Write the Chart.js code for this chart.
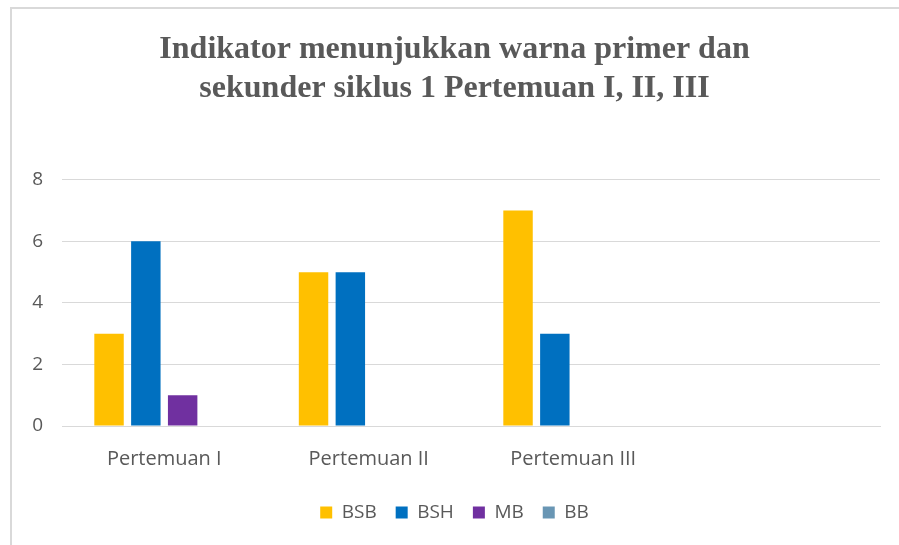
<!DOCTYPE html>
<html>
<head>
<meta charset="utf-8">
<script src="https://cdn.jsdelivr.net/npm/chart.js@4.4.1/dist/chart.umd.min.js"></script>
<style>
  html, body { margin: 0; padding: 0; background: #fff; }
  #wrap { position: relative; width: 899px; height: 545px; }
  #frame { position: absolute; left: 10px; top: 7px; right: 0; bottom: 0;
           border-left: 2px solid #d9d9d9; border-top: 2px solid #d9d9d9; }
  canvas { position: absolute; left: 0; top: 0; }
</style>
</head>
<body>
<div id="wrap">
  <div id="frame"></div>
  <canvas id="chart" width="899" height="545"></canvas>
</div>
<script>
const categories = ['Pertemuan I', 'Pertemuan II', 'Pertemuan III', ''];
const bsb = [3, 5, 7, null];
const bsh = [6, 5, 3, null];
const mb = [1, 0, 0, null];
const bb = [0, 0, 0, null];
const yTicks = [0, 2, 4, 6, 8];

const grey = '#595959';

new Chart(document.getElementById('chart'), {
  type: 'bar',
  data: {
    labels: categories,
    datasets: [
      { label: 'BSB', data: bsb, backgroundColor: '#FFC000' },
      { label: 'BSH', data: bsh, backgroundColor: '#0070C0' },
      { label: 'MB', data: mb, backgroundColor: '#7030A0' },
      { label: 'BB', data: bb, backgroundColor: '#6996B4' }
    ]
  },
  options: {
    responsive: false,
    animation: false,
    devicePixelRatio: 1,
    layout: { padding: { left: 29, right: 19, top: 31, bottom: 13 } },
    datasets: {
      bar: { barPercentage: 0.8, categoryPercentage: 0.72, borderWidth: 0 }
    },
    plugins: {
      tooltip: { enabled: false },
      title: {
        display: true,
        text: ['Indikator menunjukkan warna primer dan', 'sekunder siklus 1 Pertemuan I, II, III'],
        color: grey,
        font: { family: 'Liberation Serif', size: 32, weight: 'bold', lineHeight: 1.2 },
        padding: { top: 0, bottom: 72 }
      },
      legend: {
        position: 'bottom',
        labels: {
          color: grey,
          font: { family: 'Open Sans', size: 19 },
          boxWidth: 12,
          boxHeight: 12,
          padding: 19
        }
      }
    },
    scales: {
      x: {
        grid: { display: false },
        border: { color: '#d9d9d9', width: 1 },
        ticks: { color: grey, font: { family: 'Open Sans', size: 20 }, padding: 13 }
      },
      y: {
        min: 0,
        max: 8,
        afterBuildTicks: s => { s.ticks = yTicks.map(v => ({ value: v })); },
        afterFit: s => { s.width = 33; },
        grid: { color: '#d9d9d9', drawTicks: false },
        border: { display: false },
        ticks: { color: grey, font: { family: 'Open Sans', size: 19 }, padding: 19 }
      }
    }
  }
});
</script>
</body>
</html>
